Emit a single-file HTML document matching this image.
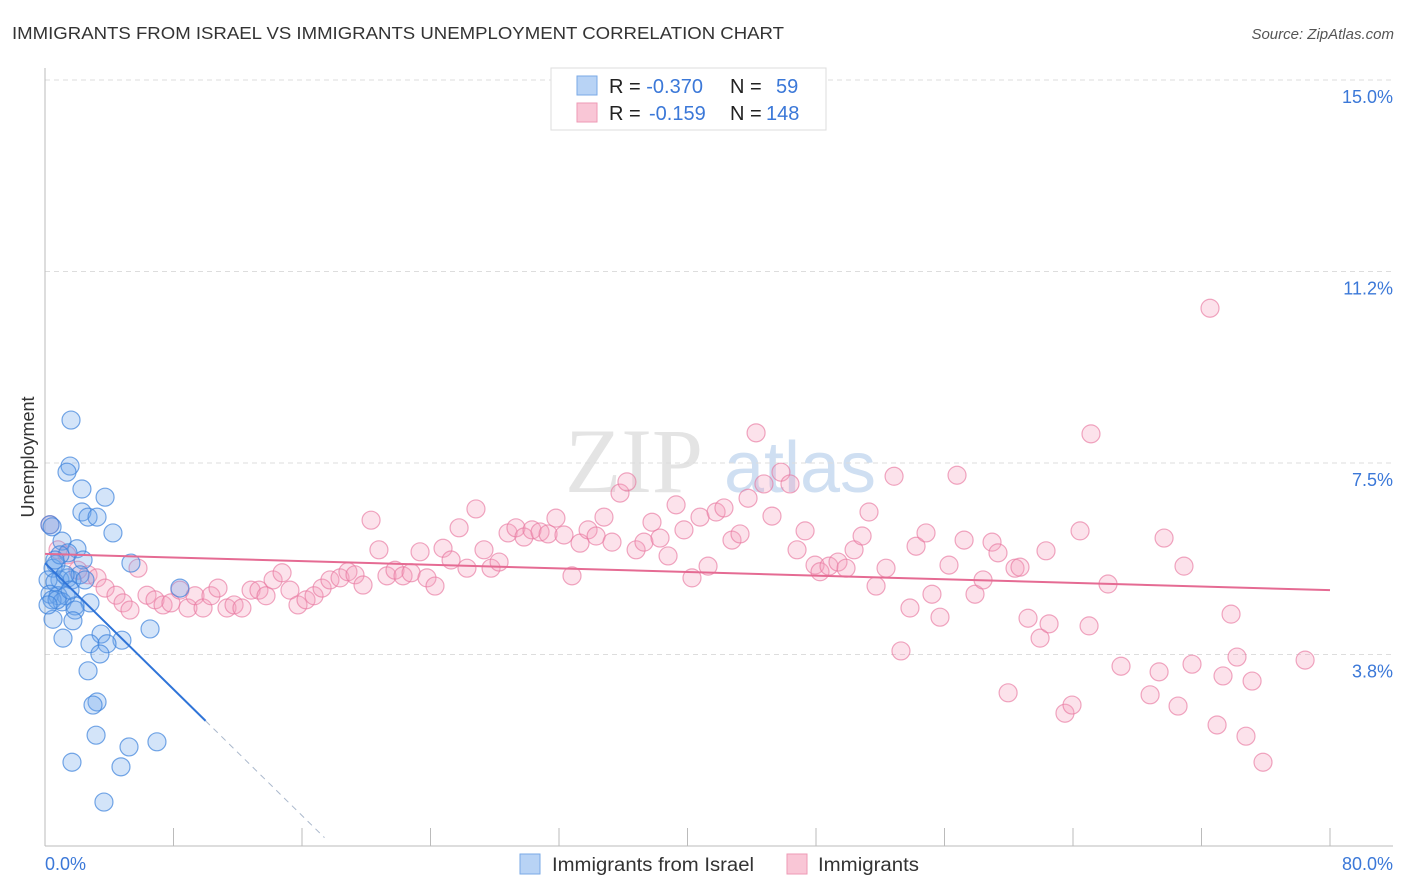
<!DOCTYPE html>
<html><head><meta charset="utf-8"><style>
body{margin:0;background:#fff;font-family:"Liberation Sans",sans-serif;}
svg{display:block}
</style></head><body>
<svg id="chart" width="1406" height="892" xmlns="http://www.w3.org/2000/svg">
<text x="12" y="39" font-size="17.5" fill="#333" textLength="772" lengthAdjust="spacingAndGlyphs">IMMIGRANTS FROM ISRAEL VS IMMIGRANTS UNEMPLOYMENT CORRELATION CHART</text>
<text x="1394" y="39" font-size="15" fill="#555" font-style="italic" text-anchor="end">Source: ZipAtlas.com</text>
<text x="634" y="492" font-size="92" fill="#e4e4e4" font-family="Liberation Serif" text-anchor="middle">ZIP</text>
<text x="800" y="492" font-size="72" fill="#cfdff2" text-anchor="middle">atlas</text>
<text transform="translate(34,457) rotate(-90)" font-size="18" fill="#333" text-anchor="middle">Unemployment</text>
<g id="grid"></g><g id="axes"></g><g id="pts"></g><g id="trend"></g>
<g>
<rect x="551" y="68" width="275" height="62" fill="#fff" stroke="#ddd"/>
<rect x="577" y="76" width="20" height="19" fill="#b8d3f5" stroke="#7aa9e6"/>
<rect x="577" y="103" width="20" height="19" fill="#f9c6d6" stroke="#ee9ab5"/>
<text x="609" y="93" font-size="20" fill="#222">R = <tspan fill="#3b78d8">-0.370</tspan><tspan x="730">N = </tspan><tspan x="776" fill="#3b78d8">59</tspan></text>
<text x="609" y="120" font-size="20" fill="#222">R = <tspan x="649" fill="#3b78d8">-0.159</tspan><tspan x="730">N = </tspan><tspan x="766" fill="#3b78d8">148</tspan></text>
</g>
<g>
<rect x="520" y="854" width="20" height="20" fill="#b8d3f5" stroke="#7aa9e6"/>
<text x="552" y="871" font-size="19" fill="#333" textLength="202" lengthAdjust="spacingAndGlyphs">Immigrants from Israel</text>
<rect x="787" y="854" width="20" height="20" fill="#f9c6d6" stroke="#ee9ab5"/>
<text x="818" y="871" font-size="19" fill="#333" textLength="101" lengthAdjust="spacingAndGlyphs">Immigrants</text>
</g>
</svg>
<script>
const blueX=[1.62,1.56,1.37,2.30,3.74,2.30,2.68,3.24,4.23,0.31,0.44,1.06,1.99,1.43,2.37,5.35,0.68,0.50,1.43,0.93,1.68,0.19,0.62,0.31,0.81,1.31,0.44,1.06,2.80,1.87,1.87,8.40,0.50,1.74,1.12,3.49,4.79,6.54,2.80,3.86,3.42,2.68,3.24,2.99,3.18,5.23,6.97,1.68,4.73,3.67,0.75,2.18,2.49,0.19,1.25,0.93,0.62,1.56];
const blueY=[8.34,7.44,7.32,6.99,6.83,6.54,6.44,6.44,6.13,6.29,6.25,5.97,5.82,5.74,5.60,5.54,5.52,5.44,5.25,5.21,5.21,5.21,5.17,4.93,4.90,4.90,4.82,4.78,4.76,4.70,4.62,5.05,4.44,4.41,4.07,4.15,4.03,4.25,3.96,3.96,3.76,3.43,2.82,2.76,2.17,1.94,2.04,1.64,1.55,0.86,4.82,5.31,5.21,4.72,5.31,5.70,5.60,5.01];
const pinkX=[0.31,0.81,1.37,2.05,2.68,3.24,3.74,4.42,4.86,5.29,5.79,6.35,6.85,7.35,7.84,8.40,8.90,9.34,9.84,10.33,10.77,11.33,11.77,12.26,12.83,13.32,13.76,14.20,14.76,15.25,15.75,16.25,16.75,17.25,17.74,18.37,18.86,19.30,19.80,20.30,20.79,21.29,21.79,22.29,22.79,23.35,23.78,24.28,24.78,25.28,25.78,26.27,26.83,27.33,27.77,28.27,28.83,29.32,29.82,30.32,30.82,31.32,31.81,32.31,32.81,33.31,33.81,34.31,34.80,35.30,35.80,36.23,36.80,37.29,37.79,38.29,38.79,39.29,39.78,40.28,40.78,41.28,41.78,42.27,42.77,43.27,43.77,44.27,44.76,45.26,45.82,46.38,46.82,47.32,47.94,48.25,48.81,49.37,49.87,50.37,50.87,51.30,51.74,52.36,52.86,53.29,53.85,54.23,54.85,55.22,55.72,56.28,56.78,57.22,57.90,58.40,58.96,59.33,59.96,60.39,60.70,61.20,61.95,62.51,62.32,63.50,63.94,64.44,65.00,65.12,66.18,66.99,68.80,69.36,69.67,70.54,70.91,71.41,72.53,72.97,73.34,73.84,74.21,74.77,75.15,75.83,78.45];
const pinkY=[6.29,5.80,5.70,5.40,5.31,5.25,5.05,4.91,4.76,4.62,5.44,4.91,4.82,4.72,4.76,5.01,4.66,4.90,4.66,4.90,5.05,4.66,4.72,4.66,5.01,5.01,4.90,5.21,5.35,5.01,4.72,4.82,4.90,5.05,5.21,5.25,5.37,5.31,5.11,6.38,5.80,5.29,5.40,5.29,5.35,5.76,5.25,5.09,5.83,5.60,6.23,5.44,6.60,5.80,5.44,5.56,6.13,6.23,6.05,6.19,6.15,6.11,6.42,6.09,5.29,5.93,6.19,6.07,6.44,5.95,6.91,7.13,5.80,5.95,6.34,6.03,5.68,6.68,6.19,5.25,6.44,5.48,6.54,6.62,5.99,6.11,6.81,8.09,7.09,6.46,7.32,7.09,5.80,6.17,5.50,5.37,5.48,5.56,5.44,5.80,6.07,6.54,5.09,5.44,7.24,3.82,4.66,5.87,6.13,4.93,4.48,5.50,7.26,5.99,4.93,5.21,5.95,5.74,3.00,5.44,5.46,4.46,4.07,4.35,5.78,2.60,2.76,6.17,4.31,8.07,5.13,3.52,2.96,3.41,6.03,2.74,5.48,3.56,10.53,2.37,3.33,4.54,3.70,2.15,3.23,1.64,3.64];
const yTicks=[3.75,7.5,11.25,15];
const yTickLabels=["3.8%","7.5%","11.2%","15.0%"];
const xTickLabels=["0.0%","80.0%"];
const blueTrend=[5.54,-0.309,10,17.4];
const pinkTrend=[5.72,5.01];
const NS="http://www.w3.org/2000/svg";
const sx=v=>45+v/80*1285, sy=v=>846-v*51.07;
function mk(tag,attrs,parent){const e=document.createElementNS(NS,tag);for(const k in attrs)e.setAttribute(k,attrs[k]);document.getElementById(parent).appendChild(e);return e;}
yTicks.forEach((t,i)=>{
 const g=mk('line',{x1:45,x2:1393,y1:sy(t),y2:sy(t),stroke:'#ddd','stroke-dasharray':'5,4'},'grid');
 
 
 const l=mk('text',{x:1393,y:sy(t)+23,'font-size':18,fill:'#3b78d8','text-anchor':'end'},'grid');l.textContent=yTickLabels[i];
 
 
});
let a=mk('line',{x1:45,x2:45,y1:68,y2:846,stroke:'#bbb'},'axes');


a=mk('line',{x1:45,x2:1393,y1:846,y2:846,stroke:'#bbb'},'axes');


for(let i=0;i<=10;i++){const t=mk('line',{x1:sx(i*8),x2:sx(i*8),y1:828,y2:846,stroke:'#bbb'},'axes');
 
 }
let xl=mk('text',{x:45,y:870,'font-size':18,fill:'#3b78d8'},'axes');xl.textContent=xTickLabels[0];


xl=mk('text',{x:1393,y:870,'font-size':18,fill:'#3b78d8','text-anchor':'end'},'axes');xl.textContent=xTickLabels[1];


pinkX.forEach((x,i)=>{const c=mk('circle',{cx:sx(x),cy:sy(pinkY[i]),r:9,fill:'rgba(244,160,188,0.3)',stroke:'rgba(232,120,160,0.65)','stroke-width':1.2},'pts');
 
 });
blueX.forEach((x,i)=>{const c=mk('circle',{cx:sx(x),cy:sy(blueY[i]),r:9,fill:'rgba(110,165,235,0.3)',stroke:'rgba(60,130,220,0.7)','stroke-width':1.2},'pts');
 
 });
const bf=x=>blueTrend[0]+blueTrend[1]*x;
let tl=mk('line',{x1:sx(0),y1:sy(bf(0)),x2:sx(blueTrend[2]),y2:sy(bf(blueTrend[2])),stroke:'#2f74d8','stroke-width':2},'trend');


tl=mk('line',{x1:sx(blueTrend[2]),y1:sy(bf(blueTrend[2])),x2:sx(blueTrend[3]),y2:sy(bf(blueTrend[3])),stroke:'#aab8cc','stroke-width':1,'stroke-dasharray':'6,5'},'trend');


tl=mk('line',{x1:sx(0),y1:sy(pinkTrend[0]),x2:sx(80),y2:sy(pinkTrend[1]),stroke:'#e56b93','stroke-width':2},'trend');


</script>
</body></html>
